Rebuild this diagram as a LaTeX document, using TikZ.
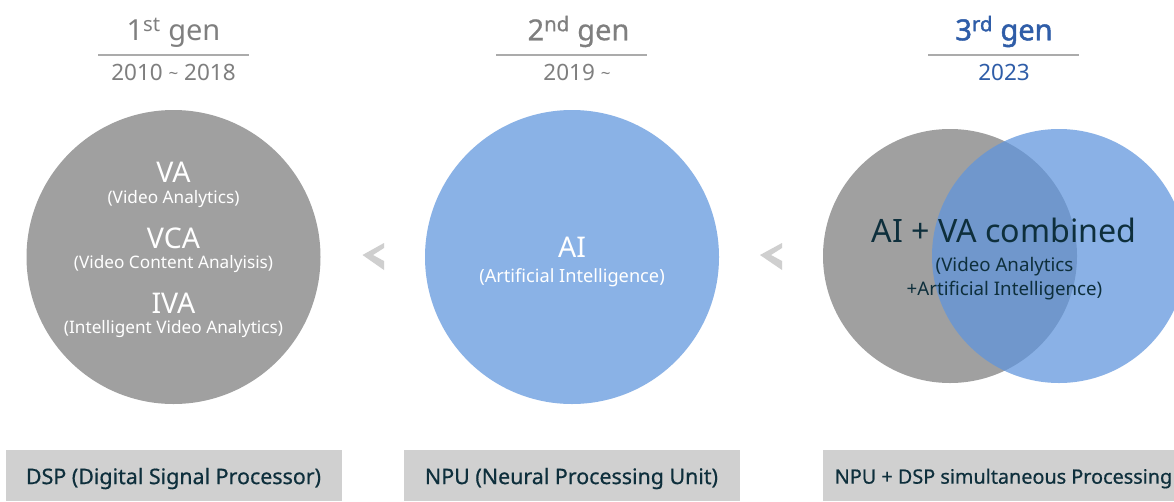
\documentclass[tikz,border=0pt]{standalone}
\usepackage{fontspec}
\setmainfont{Noto Sans}
\newfontfamily\medfont[FakeBold=0.6]{Noto Sans}
\newfontfamily\boldfont[FakeBold=1.6]{Noto Sans}
\definecolor{cgray}{HTML}{A0A0A0}
\definecolor{cblue}{HTML}{8AB2E6}
\definecolor{csrc}{HTML}{5F95DD}
\definecolor{ttl}{HTML}{7F7F7F}
\definecolor{rulec}{HTML}{ABABAB}
\definecolor{tblue}{HTML}{2F5DA8}
\definecolor{boxc}{HTML}{D0D0D0}
\definecolor{dark}{HTML}{0E2F3C}
\definecolor{chev}{HTML}{CFCFCF}
\newcommand{\fs}[1]{\fontsize{#1}{#1}\selectfont}
\tikzset{
 lab/.style={inner sep=0pt,outer sep=0pt,anchor=center,align=center},
 gencap/.style={lab,text=ttl,font=\fs{29}},
 yearcap/.style={lab,text=ttl,font=\fs{22.5}},
 big/.style={lab,text=white,font=\fs{28.5}},
 small/.style={lab,text=white,font=\fs{17.2}},
 boxlab/.style={lab,text=dark,font=\medfont\fs{21.4}},
 bar/.style={fill=boxc,draw=none},
 rul/.style={draw=rulec,line width=2pt},
 chevr/.style={fill=chev,draw=none}
}
\begin{document}
\begin{tikzpicture}[x=1pt,y=-1pt]
\useasboundingbox (0,0) rectangle (1174,501);
\fill[white] (0,0) rectangle (1174,501);
\begin{scope}
\clip (0,0) rectangle (1174,501);
% headers
\node[gencap] (g1) at (173.5,33) {1\textsuperscript{st} gen};
\draw[rul] (98,54.5) -- (249,54.5);
\node[yearcap] (y1) at (173.5,72.5) {2010 \raisebox{1pt}{\fs{17}\char`~} 2018};
\node[gencap,font=\medfont\fs{29}] (g2) at (578.5,31.5) {2\textsuperscript{nd} gen};
\draw[rul] (496,54.5) -- (647,54.5);
\node[yearcap] (y2) at (577,72.5) {2019 \raisebox{1pt}{\fs{17}\char`~}};
\node[gencap,text=tblue,font=\boldfont\fs{29}] (g3) at (1004,31.5) {3\textsuperscript{rd} gen};
\draw[rul] (928,54.5) -- (1079,54.5);
\node[yearcap,text=tblue] (y3) at (1004,72.5) {2023};
% circles
\fill[cgray] (173.5,257) circle (147);
\fill[cblue] (572,257) circle (147);
\fill[cgray] (950,256) circle (127);
\fill[csrc,fill opacity=0.73] (1059,256) circle (127);
% texts
\node[big] (a) at (173.5,172) {VA};
\node[small] (as) at (173.5,199) {(Video Analytics)};
\node[big] (b) at (173.5,238) {VCA};
\node[small] (bs) at (173.5,264) {(Video Content Analyisis)};
\node[big] (c) at (173.5,303) {IVA};
\node[small] (cs) at (173.5,329) {(Intelligent Video Analytics)};
\node[big] (d) at (572,247) {AI};
\node[small,font=\fs{18.2}] (ds) at (572,278) {(Artificial Intelligence)};
\node[lab,text=dark,font=\fs{32.2}] (e) at (1004,230.5) {AI + VA combined};
\node[lab,text=dark,font=\fs{18.7}] (e1) at (1004.5,267) {(Video Analytics};
\node[lab,text=dark,font=\fs{18.7}] (e2) at (1004.5,290.5) {+Artificial Intelligence)};
% chevrons
\fill[chevr] (362.5,255) -- (384,243) -- (384,248) -- (373,255) -- (384,261) -- (384,270) -- cycle;
\fill[chevr] (760,255) -- (782,243) -- (782,248) -- (771,255) -- (782,261) -- (782,270) -- cycle;
% bars
\fill[bar] (6,450) rectangle (342,501);
\node[boxlab] (p) at (173.5,478.5) {DSP (Digital Signal Processor)};
\fill[bar] (404,450) rectangle (740,501);
\node[boxlab] (q) at (571.5,478.5) {NPU (Neural Processing Unit)};
\fill[bar] (823,450) rectangle (1174,501);
\node[boxlab,font=\medfont\fs{19.8}] (r) at (1003.5,478.5) {NPU + DSP simultaneous Processing};
\end{scope}
\end{tikzpicture}
\end{document}
